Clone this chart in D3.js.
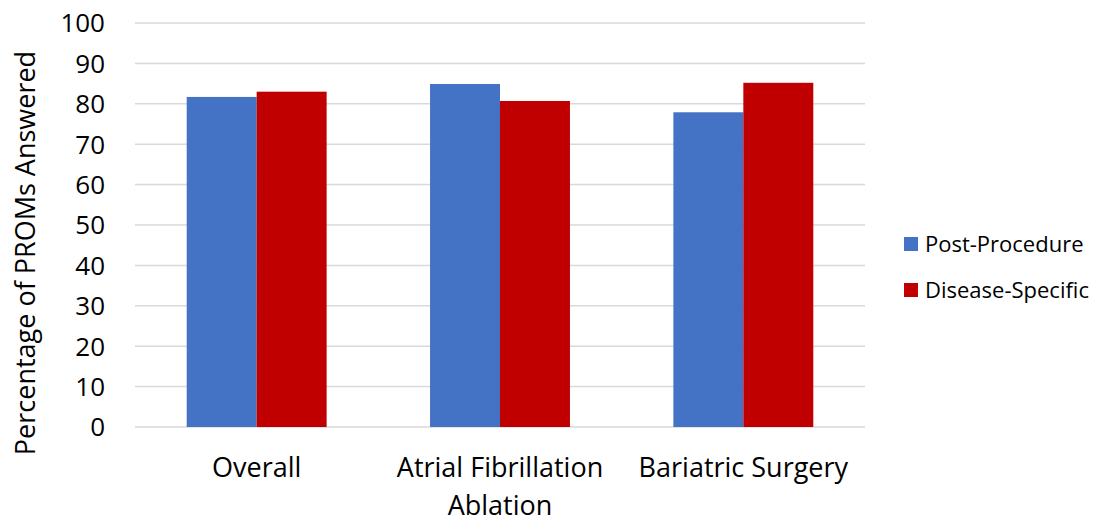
<!DOCTYPE html>
<html>
<head>
<meta charset="utf-8">
<script src="https://cdn.jsdelivr.net/npm/d3@7"></script>
<style>
  body { margin: 0; background: #fff; }
  text { font-family: "Open Sans", sans-serif; fill: #000; font-variant-ligatures: none; }
</style>
</head>
<body>
<svg width="1102" height="522"></svg>
<script>
var categories = [["Overall"], ["Atrial Fibrillation", "Ablation"], ["Bariatric Surgery"]];
var series = ["Post-Procedure", "Disease-Specific"];
var postProcedure = [81.7, 84.9, 77.9];
var diseaseSpecific = [83.0, 80.7, 85.2];
var yTicks = [0, 10, 20, 30, 40, 50, 60, 70, 80, 90, 100];
var colors = ["#4472c4", "#c00000"];

var svg = d3.select("svg");
var plotLeft = 135, plotRight = 865, plotTop = 23, plotBottom = 427;

var keys = categories.map(function (c) { return c.join(" "); });
var rows = keys.map(function (k, i) {
    return { key: k, lines: categories[i], values: [postProcedure[i], diseaseSpecific[i]] };
});

var x0 = d3.scaleBand().domain(keys).range([plotLeft, plotRight])
    .paddingInner(0.425).paddingOuter(0.2125);
var x1 = d3.scaleBand().domain(series).range([0, x0.bandwidth()]);
var y = d3.scaleLinear().domain([0, 100]).range([plotBottom, plotTop]);

// gridlines
svg.append("g")
    .selectAll("line")
    .data(yTicks)
    .enter().append("line")
    .attr("x1", plotLeft)
    .attr("x2", plotRight)
    .attr("y1", function (d) { return y(d); })
    .attr("y2", function (d) { return y(d); })
    .attr("stroke", "#d9d9d9")
    .attr("stroke-width", 1.5);

// y tick labels
svg.append("g")
    .selectAll("text")
    .data(yTicks)
    .enter().append("text")
    .attr("x", plotLeft - 30)
    .attr("y", function (d) { return y(d); })
    .attr("dy", "0.36em")
    .attr("text-anchor", "end")
    .attr("font-size", 26)
    .text(function (d) { return d; });

// bars
var group = svg.append("g")
    .selectAll("g")
    .data(rows)
    .enter().append("g")
    .attr("transform", function (d) { return "translate(" + x0(d.key) + ",0)"; });

group.selectAll("rect")
    .data(function (d) { return d.values.map(function (v, i) { return { s: series[i], v: v, i: i }; }); })
    .enter().append("rect")
    .attr("x", function (d) { return x1(d.s); })
    .attr("width", x1.bandwidth())
    .attr("y", function (d) { return y(d.v); })
    .attr("height", function (d) { return y(0) - y(d.v); })
    .attr("fill", function (d) { return colors[d.i]; });

// category labels
var cat = svg.append("g")
    .selectAll("text")
    .data(rows)
    .enter().append("text")
    .attr("text-anchor", "middle")
    .attr("font-size", 27)
    .attr("transform", function (d) { return "translate(" + (x0(d.key) + x0.bandwidth() / 2) + ",477)"; });

cat.selectAll("tspan")
    .data(function (d) { return d.lines; })
    .enter().append("tspan")
    .attr("x", 0)
    .attr("y", function (d, i) { return i * 38; })
    .text(function (d) { return d; });

// y axis title
svg.append("text")
    .attr("transform", "translate(35," + ((plotTop + plotBottom) / 2 + 28) + ") rotate(-90)")
    .attr("text-anchor", "middle")
    .attr("font-size", 27)
    .text("Percentage of PROMs Answered");

// legend
var legend = svg.append("g")
    .selectAll("g")
    .data(series)
    .enter().append("g")
    .attr("transform", function (d, i) { return "translate(904," + (237 + i * 46) + ")"; });

legend.append("rect")
    .attr("width", 14)
    .attr("height", 14)
    .attr("fill", function (d, i) { return colors[i]; });

legend.append("text")
    .attr("x", 21)
    .attr("y", 7)
    .attr("dy", "0.36em")
    .attr("font-size", 22)
    .text(function (d) { return d; });
</script>
</body>
</html>
